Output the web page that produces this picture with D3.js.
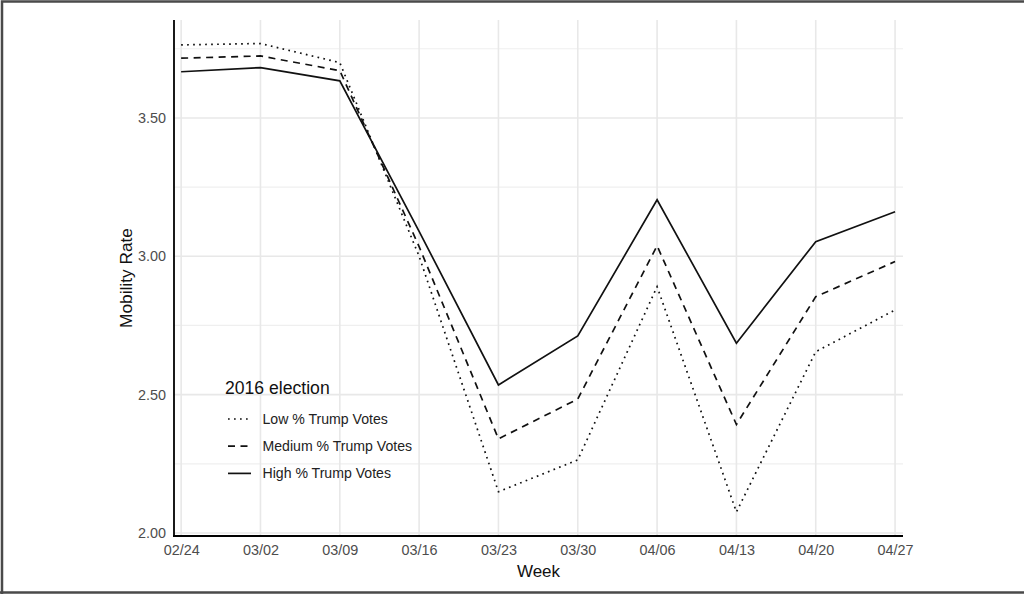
<!DOCTYPE html>
<html><head><meta charset="utf-8">
<script src="https://cdn.jsdelivr.net/npm/d3@7"></script>
<style>body{margin:0;background:#fff;}svg{display:block;font-family:"Liberation Sans",Arial,sans-serif;}</style>
</head><body>
<svg id="c" width="1024" height="594"></svg>
<script>
const weeks = ["02/24","03/02","03/09","03/16","03/23","03/30","04/06","04/13","04/20","04/27"];
const lowVotes    = [3.764,3.769,3.700,3.000,2.149,2.264,2.890,2.076,2.655,2.806];
const mediumVotes = [3.716,3.724,3.671,3.035,2.340,2.484,3.038,2.392,2.854,2.981];
const highVotes   = [3.667,3.682,3.634,3.090,2.535,2.712,3.204,2.686,3.053,3.161];
const seriesNames = ["Low % Trump Votes","Medium % Trump Votes","High % Trump Votes"];
const yTicks = [2.00,2.50,3.00,3.50];
const yMinor = [2.25,2.75,3.25,3.75];

const svg = d3.select("#c");
const L=174, R=903, T=20, B=536;
const x = d3.scaleLinear().domain([-0.09, 9.1]).range([L, R]);
const y = d3.scaleLinear().domain([1.989, 3.854]).range([B, T]);

// outer border
svg.append("path").attr("d","M2,600 L2,1.5 L1030,1.5 M0,592.5 L1030,592.5")
  .attr("fill","none").attr("stroke","#4a4a4a").attr("stroke-width",2.5);

const g = svg.append("g");
// grid
g.selectAll(".mn").data(yMinor).enter().append("line")
  .attr("x1",L).attr("x2",R).attr("y1",d=>y(d)).attr("y2",d=>y(d))
  .attr("stroke","#efefef").attr("stroke-width",1.2);
g.selectAll(".mj").data(yTicks).enter().append("line")
  .attr("x1",L).attr("x2",R).attr("y1",d=>y(d)).attr("y2",d=>y(d))
  .attr("stroke","#e8e8e8").attr("stroke-width",1.6);
g.selectAll(".vx").data(weeks).enter().append("line")
  .attr("x1",(d,i)=>x(i)).attr("x2",(d,i)=>x(i)).attr("y1",T).attr("y2",B)
  .attr("stroke","#e8e8e8").attr("stroke-width",1.6);

// axes
const xAxis = d3.axisBottom(x).tickValues(d3.range(weeks.length)).tickFormat(i=>weeks[i]).tickSize(0).tickPadding(8.5);
const yAxis = d3.axisLeft(y).tickValues(yTicks).tickFormat(d3.format(".2f")).tickSize(0).tickPadding(8);
const ax = svg.append("g").attr("transform",`translate(0,${B})`).call(xAxis);
const ay = svg.append("g").attr("transform",`translate(${L},0)`).call(yAxis);
[ax,ay].forEach(a=>{a.select(".domain").remove();a.selectAll("text").attr("font-size",14.4).attr("fill","#4d4d4d").attr("font-family","Liberation Sans, Arial, sans-serif");});
svg.append("line").attr("x1",L).attr("x2",L).attr("y1",T).attr("y2",B+1).attr("stroke","#000").attr("stroke-width",1.8);
svg.append("line").attr("x1",L-1).attr("x2",R).attr("y1",B).attr("y2",B).attr("stroke","#000").attr("stroke-width",1.8);

// titles
svg.append("text").attr("x",(L+R)/2).attr("y",577).attr("text-anchor","middle").attr("font-size",17).attr("fill","#111").text("Week");
svg.append("text").attr("transform",`translate(132,${(T+B)/2}) rotate(-90)`).attr("text-anchor","middle").attr("font-size",17.3).attr("fill","#111").text("Mobility Rate");

// lines
const dashes = ["1.7,4.3","7,5.5",null];
const data = [lowVotes, mediumVotes, highVotes];
const line = d3.line().x((d,i)=>x(i)).y(d=>y(d));
data.forEach((s,k)=>{
  svg.append("path").datum(s).attr("d",line).attr("fill","none").attr("stroke","#111")
    .attr("stroke-width",1.7).attr("stroke-dasharray",dashes[k]).attr("stroke-linejoin","miter");
});

// legend
const lg = svg.append("g");
lg.append("text").attr("x",225).attr("y",394).attr("font-size",17.6).attr("fill","#111").text("2016 election");
seriesNames.forEach((n,k)=>{
  const yy = 419 + k*27.2;
  lg.append("line").attr("x1",228).attr("x2",251).attr("y1",yy).attr("y2",yy)
    .attr("stroke","#111").attr("stroke-width",1.7).attr("stroke-dasharray",dashes[k]);
  lg.append("text").attr("x",262.5).attr("y",yy+5).attr("font-size",14.1).attr("fill","#222").text(n);
});
</script>
</body></html>
